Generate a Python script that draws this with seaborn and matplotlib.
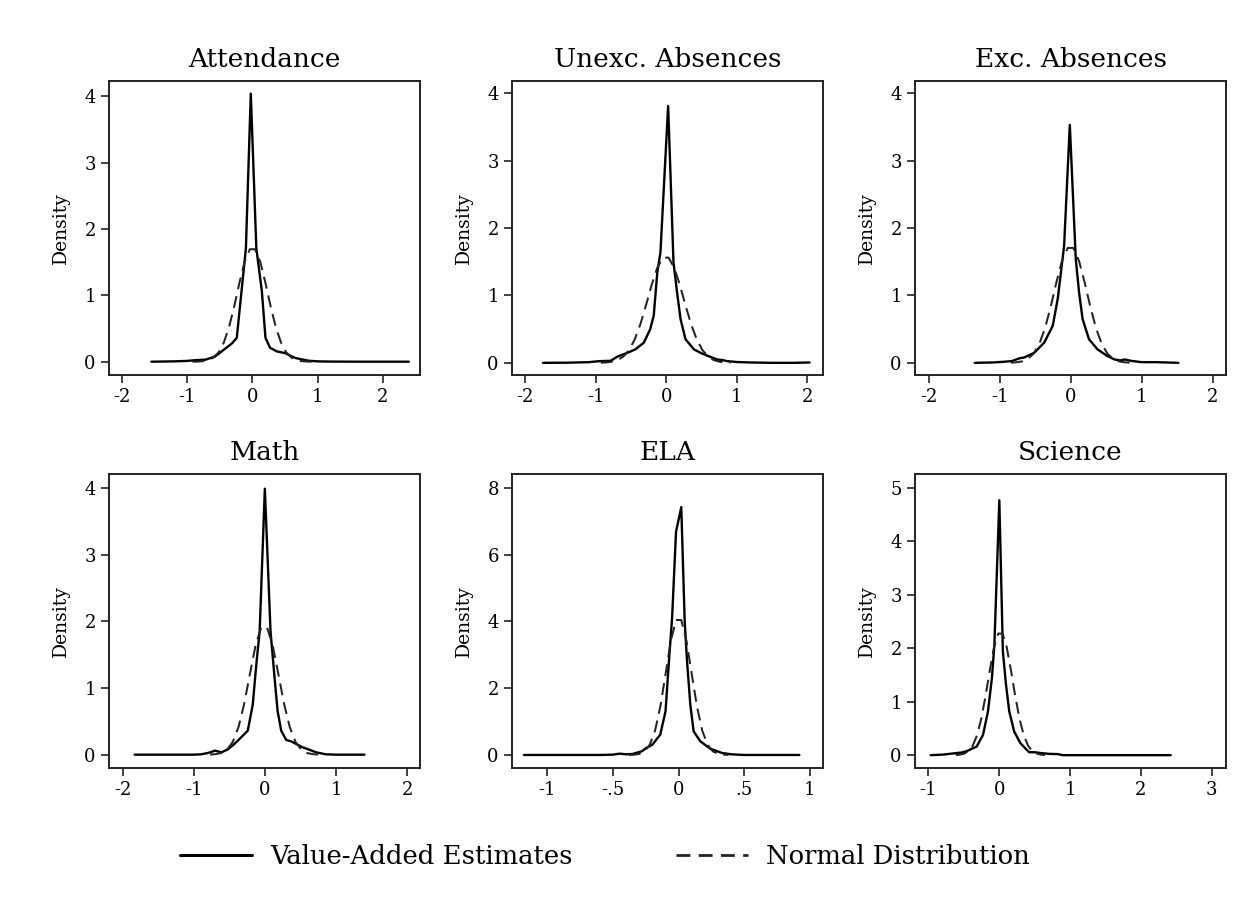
import matplotlib
matplotlib.use("Agg")
import matplotlib.pyplot as plt
import seaborn as sns
import pandas as pd
from matplotlib.lines import Line2D

# ---------------- data ----------------
titles = ["Attendance", "Unexc. Absences", "Exc. Absences", "Math", "ELA", "Science"]

# Value-added estimate densities (solid)
att_x = [-1.55, -1.2, -1.0, -0.85, -0.72, -0.57, -0.44, -0.36, -0.31, -0.24, -0.10, -0.025, 0.06, 0.145, 0.20, 0.27, 0.375, 0.5, 0.58, 0.66, 0.76, 0.86, 1.0, 1.2, 1.6, 2.0, 2.4]
att_y = [0.0, 0.005, 0.012, 0.025, 0.03, 0.08, 0.18, 0.24, 0.28, 0.36, 1.71, 4.04, 1.71, 1.06, 0.36, 0.21, 0.155, 0.13, 0.09, 0.055, 0.035, 0.015, 0.005, 0.002, 0.0, 0.0, 0.0]

unx_x = [-1.75, -1.4, -1.1, -0.95, -0.79, -0.7, -0.55, -0.44, -0.32, -0.23, -0.18, -0.13, -0.085, 0.024, 0.10, 0.15, 0.20, 0.27, 0.39, 0.48, 0.57, 0.72, 0.80, 0.86, 1.0, 1.2, 1.5, 1.8, 2.03]
unx_y = [0.0, 0.002, 0.01, 0.025, 0.03, 0.09, 0.15, 0.20, 0.30, 0.50, 0.70, 1.34, 1.64, 3.81, 1.49, 1.05, 0.65, 0.35, 0.20, 0.15, 0.11, 0.05, 0.04, 0.025, 0.012, 0.005, 0.0, 0.0, 0.005]

exc_x = [-1.35, -1.1, -0.95, -0.83, -0.71, -0.65, -0.51, -0.37, -0.25, -0.18, -0.135, -0.09, -0.01, 0.074, 0.12, 0.17, 0.26, 0.38, 0.52, 0.62, 0.70, 0.76, 0.85, 1.0, 1.2, 1.52]
exc_y = [0.0, 0.005, 0.015, 0.025, 0.07, 0.08, 0.15, 0.30, 0.55, 0.95, 1.34, 1.74, 3.53, 1.54, 1.05, 0.65, 0.35, 0.20, 0.10, 0.05, 0.035, 0.05, 0.03, 0.01, 0.01, 0.0]

math_x = [-1.83, -1.4, -1.0, -0.9, -0.8, -0.7, -0.61, -0.52, -0.45, -0.38, -0.24, -0.17, -0.12, -0.073, 0.0, 0.08, 0.137, 0.18, 0.23, 0.30, 0.37, 0.46, 0.53, 0.6, 0.72, 0.86, 1.0, 1.2, 1.4]
math_y = [0.0, 0.0, 0.0, 0.005, 0.025, 0.06, 0.035, 0.08, 0.14, 0.21, 0.36, 0.75, 1.35, 1.85, 3.99, 1.85, 1.15, 0.65, 0.36, 0.22, 0.2, 0.15, 0.11, 0.085, 0.035, 0.005, 0.0, 0.0, 0.0]

ela_x = [-1.18, -0.9, -0.6, -0.5, -0.45, -0.4, -0.35, -0.3, -0.28, -0.25, -0.2, -0.14, -0.10, -0.076, -0.05, -0.02, 0.02, 0.046, 0.064, 0.089, 0.114, 0.165, 0.24, 0.33, 0.4, 0.5, 0.7, 0.92]
ela_y = [0.0, 0.0, 0.0, 0.01, 0.04, 0.02, 0.03, 0.09, 0.11, 0.2, 0.31, 0.61, 1.31, 2.7, 4.1, 6.68, 7.42, 4.0, 2.8, 1.5, 0.71, 0.41, 0.19, 0.06, 0.02, 0.0, 0.0, 0.0]

sci_x = [-0.97, -0.8, -0.6, -0.53, -0.45, -0.39, -0.32, -0.23, -0.16, -0.105, -0.07, 0.0, 0.05, 0.095, 0.14, 0.21, 0.30, 0.42, 0.5, 0.58, 0.7, 0.82, 0.9, 1.2, 1.6, 2.0, 2.42]
sci_y = [0.0, 0.01, 0.04, 0.05, 0.08, 0.12, 0.16, 0.38, 0.82, 1.44, 2.06, 4.77, 1.94, 1.31, 0.82, 0.44, 0.22, 0.056, 0.055, 0.04, 0.025, 0.02, 0.0, 0.0, 0.0, 0.0, 0.0]

# Normal distribution overlays (dashed)
att_nx = [-0.92, -0.84, -0.76, -0.68, -0.60, -0.52, -0.44, -0.36, -0.28, -0.20, -0.12, -0.04, 0.04, 0.12, 0.20, 0.28, 0.36, 0.44, 0.52, 0.60, 0.68, 0.76, 0.84, 0.92]
att_ny = [0.0, 0.002, 0.008, 0.023, 0.061, 0.139, 0.285, 0.516, 0.83, 1.186, 1.505, 1.695, 1.695, 1.505, 1.186, 0.83, 0.516, 0.285, 0.139, 0.061, 0.023, 0.008, 0.002, 0.0]

unx_nx = [-0.93, -0.85, -0.77, -0.69, -0.61, -0.53, -0.45, -0.37, -0.29, -0.21, -0.13, -0.05, 0.03, 0.11, 0.19, 0.27, 0.35, 0.43, 0.51, 0.59, 0.67, 0.75, 0.83, 0.91]
unx_ny = [0.002, 0.006, 0.017, 0.042, 0.094, 0.19, 0.346, 0.572, 0.854, 1.155, 1.411, 1.56, 1.56, 1.411, 1.155, 0.854, 0.572, 0.346, 0.19, 0.094, 0.042, 0.017, 0.006, 0.002]

exc_nx = [-0.84, -0.76, -0.68, -0.60, -0.52, -0.44, -0.36, -0.28, -0.20, -0.12, -0.04, 0.04, 0.12, 0.20, 0.28, 0.36, 0.44, 0.52, 0.60, 0.68, 0.76, 0.84]
exc_ny = [0.002, 0.008, 0.022, 0.059, 0.136, 0.28, 0.512, 0.828, 1.188, 1.511, 1.704, 1.704, 1.511, 1.188, 0.828, 0.512, 0.28, 0.136, 0.059, 0.022, 0.008, 0.002]

math_nx = [-0.77, -0.69, -0.61, -0.53, -0.45, -0.37, -0.29, -0.21, -0.13, -0.05, 0.03, 0.11, 0.19, 0.27, 0.35, 0.43, 0.51, 0.59, 0.67, 0.75]
math_ny = [0.002, 0.008, 0.026, 0.077, 0.193, 0.415, 0.764, 1.209, 1.642, 1.913, 1.913, 1.642, 1.209, 0.764, 0.415, 0.193, 0.077, 0.026, 0.008, 0.002]

ela_nx = [-0.38, -0.34, -0.30, -0.26, -0.22, -0.18, -0.14, -0.10, -0.06, -0.02, 0.02, 0.06, 0.10, 0.14, 0.18, 0.22, 0.26, 0.30, 0.34, 0.38]
ela_ny = [0.002, 0.008, 0.033, 0.110, 0.309, 0.728, 1.445, 2.417, 3.405, 4.04, 4.04, 3.405, 2.417, 1.445, 0.728, 0.309, 0.110, 0.033, 0.008, 0.002]

sci_nx = [-0.615, -0.555, -0.495, -0.435, -0.375, -0.315, -0.255, -0.195, -0.135, -0.075, -0.015, 0.045, 0.105, 0.165, 0.225, 0.285, 0.345, 0.405, 0.465, 0.525, 0.585, 0.645]
sci_ny = [0.003, 0.010, 0.030, 0.077, 0.18, 0.372, 0.681, 1.103, 1.584, 2.017, 2.275, 2.275, 2.017, 1.584, 1.103, 0.681, 0.372, 0.18, 0.077, 0.030, 0.010, 0.003]

# axes settings
xlims = [(-2.2, 2.57), (-2.19, 2.22), (-2.19, 2.19), (-2.19, 2.18), (-1.27, 1.1), (-1.19, 3.2)]
ylims = [(-0.2, 4.23), (-0.18, 4.18), (-0.18, 4.18), (-0.2, 4.21), (-0.39, 8.41), (-0.24, 5.26)]
xticks = [[-2, -1, 0, 1, 2]] * 4 + [[-1, -0.5, 0, 0.5, 1], [-1, 0, 1, 2, 3]]
xticklabels = [["-2", "-1", "0", "1", "2"]] * 4 + [["-1", "-.5", "0", ".5", "1"], ["-1", "0", "1", "2", "3"]]
yticks = [[0, 1, 2, 3, 4]] * 4 + [[0, 2, 4, 6, 8], [0, 1, 2, 3, 4, 5]]

legend_labels = ["Value-Added Estimates", "Normal Distribution"]

solid = [(att_x, att_y), (unx_x, unx_y), (exc_x, exc_y), (math_x, math_y), (ela_x, ela_y), (sci_x, sci_y)]
normal = [(att_nx, att_ny), (unx_nx, unx_ny), (exc_nx, exc_ny), (math_nx, math_ny), (ela_nx, ela_ny), (sci_nx, sci_ny)]

# ---------------- plotting ----------------
sns.set_theme(style="ticks")
plt.rcParams["font.family"] = ["DejaVu Serif"]
plt.rcParams["axes.unicode_minus"] = False
plt.rcParams["text.color"] = "black"
plt.rcParams["axes.labelcolor"] = "black"

fig, axes = plt.subplots(2, 3, figsize=(12.43, 9.11), dpi=100)
fig.patch.set_facecolor("white")
fig.subplots_adjust(left=109/1243, right=1226/1243, top=1-81/911, bottom=1-768/911,
                    wspace=0.296, hspace=0.337)

LW = 1.7
for i, ax in enumerate(axes.flat):
    sx, sy = solid[i]
    nx, ny = normal[i]
    sns.lineplot(x=sx, y=sy, ax=ax, color="black", linewidth=LW, sort=False)
    sns.lineplot(x=nx, y=ny, ax=ax, color="#222222", linewidth=LW * 0.85, sort=False)
    ax.lines[-1].set_dashes((6, 3.5))
    ax.set_xlim(*xlims[i])
    ax.set_ylim(*ylims[i])
    ax.set_xticks(xticks[i])
    ax.set_xticklabels(xticklabels[i])
    ax.set_yticks(yticks[i])
    ax.set_yticklabels([str(v) for v in yticks[i]])
    ax.set_title(titles[i], fontsize=19, pad=10, color="black")
    ax.set_ylabel("Density", fontsize=13.5, labelpad=10, color="black")
    ax.set_xlabel("")
    ax.tick_params(axis="both", direction="out", length=6, width=1.2, labelsize=13,
                   color="#222222", labelcolor="black")
    for s in ax.spines.values():
        s.set_visible(True)
        s.set_color("#222222")
        s.set_linewidth(1.4)
    ax.set_facecolor("white")

handles = [Line2D([0], [0], color="black", lw=2.2),
           Line2D([0], [0], color="#222222", lw=2.0, dashes=(5, 3))]
fig.legend(handles, legend_labels, loc="center", bbox_to_anchor=(605/1243, 1 - 857/911),
           ncol=2, frameon=False, fontsize=18.6, handlelength=2.8, columnspacing=4.0,
           handletextpad=0.7)

fig.savefig("out.png", dpi=100, facecolor="white")
